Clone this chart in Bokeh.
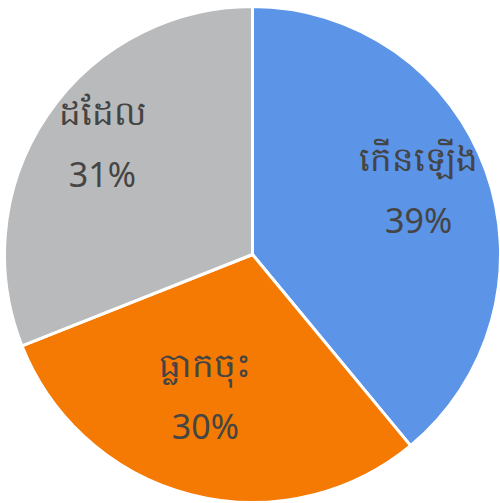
import numpy as np
from bokeh.plotting import figure
from bokeh.models import Range1d, ColumnDataSource
from bokeh.core.properties import value
from bokeh.embed import file_html
from bokeh.resources import INLINE

labels = ["កើនឡើង", "ធ្លាកចុះ", "ដដែល"]
percents = [39, 30, 31]
colors = ["#5c94e7", "#f47a03", "#b9babb"]

W, H = 500, 503
p = figure(width=W, height=H, output_backend="svg", toolbar_location=None,
           x_range=Range1d(0, W), y_range=Range1d(0, H))
p.axis.visible = False
p.grid.visible = False
p.outline_line_color = None
p.min_border = 0
p.background_fill_color = "white"

cx, cy, R = 252, 249, 248
vals = np.array(percents, dtype=float)
frac = vals / vals.sum()
cum = np.concatenate([[0], np.cumsum(frac)])
start = np.pi / 2 - cum[:-1] * 2 * np.pi
end = np.pi / 2 - cum[1:] * 2 * np.pi
mid = (start + end) / 2

label_r = np.array([0.720, 0.596, 0.754]) * R
label_da = np.radians([1.7, -4.2, -2.4])
lx = cx + label_r * np.cos(mid + label_da)
ly = cy + label_r * np.sin(mid + label_da)

src = ColumnDataSource(dict(start=start, end=end, color=colors,
                            lx=lx, ly=ly, name=labels,
                            pct=[f"{v}%" for v in percents]))
p.wedge(x=cx, y=cy, radius=R, start_angle="start", end_angle="end",
        direction="clock", fill_color="color", line_color="white",
        line_width=3, source=src)

p.text(x="lx", y="ly", text="name", source=src, y_offset=-31,
       text_align="center", text_baseline="middle",
       text_font=value("Noto Sans"), text_font_size="34px",
       text_color="#444444")
p.text(x="lx", y="ly", text="pct", source=src, y_offset=31,
       text_align="center", text_baseline="middle",
       text_font=value("Noto Sans"), text_font_size="34px",
       text_color="#454545")

open("out.html", "w").write(file_html(p, INLINE))
